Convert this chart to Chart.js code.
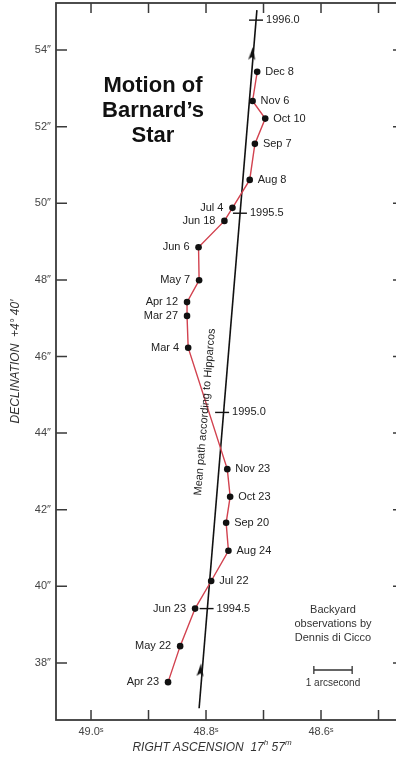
<!DOCTYPE html>
<html>
<head>
<meta charset="utf-8">
<script src="https://cdn.jsdelivr.net/npm/chart.js@4.4.0/dist/chart.umd.min.js"></script>
<style>
  html, body { margin: 0; padding: 0; background: #fff; overflow: hidden; }
  #wrap { width: 404px; height: 760px; }
</style>
</head>
<body>
<div id="wrap"><canvas id="barnard"></canvas></div>
<script>
// RA in seconds after 17h 57m, Dec in arcsec after +4° 40'
const obsDates = ["Apr 23", "May 22", "Jun 23", "Jul 22", "Aug 24", "Sep 20", "Oct 23", "Nov 23",
  "Mar 4", "Mar 27", "Apr 12", "May 7", "Jun 6", "Jun 18", "Jul 4", "Aug 8", "Sep 7", "Oct 10", "Nov 6", "Dec 8"];
const obsRA = [48.866, 48.845, 48.819, 48.791, 48.761, 48.765, 48.758, 48.763,
  48.831, 48.833, 48.833, 48.812, 48.813, 48.768, 48.754, 48.724, 48.715, 48.697, 48.719, 48.711];
const obsDec = [37.50, 38.44, 39.42, 40.14, 40.93, 41.66, 42.34, 43.06,
  46.23, 47.06, 47.42, 47.99, 48.85, 49.54, 49.88, 50.61, 51.55, 52.21, 52.67, 53.43];

// mean path according to Hipparcos
const epochs = ["1994.5", "1995.0", "1995.5", "1996.0"];
const epochRA = [48.799, 48.772, 48.741, 48.713];
const epochDec = [39.42, 44.54, 49.74, 54.78];
const pathRA = [48.812, 48.7115];
const pathDec = [36.82, 55.04];
const arrowRA = [48.8095, 48.7195];
const arrowDec = [37.82, 53.91];

const raTicks = [49.0, 48.9, 48.8, 48.7, 48.6, 48.5];
const raTickLabels = ["49.0ˢ", "", "48.8ˢ", "", "48.6ˢ", ""];
const decTicks = [38, 40, 42, 44, 46, 48, 50, 52, 54];
const decTickLabels = ['38″', '40″', '42″', '44″', '46″', '48″', '50″', '52″', '54″'];

// which side the date label sits on
const labelSide = ["L", "L", "L", "R", "R", "R", "R", "R",
  "L", "L", "L", "L", "L", "L", "L", "R", "R", "R", "R", "R"];

const FONT = "'Liberation Sans', Arial, sans-serif";
Chart.defaults.font.family = FONT;
Chart.defaults.color = "#333";

const pts = (xs, ys) => xs.map((x, i) => ({ x: x, y: ys[i] }));

// narrow arrow head
const arrowHead = document.createElement("canvas");
arrowHead.width = 7;
arrowHead.height = 13;
const ah = arrowHead.getContext("2d");
ah.fillStyle = "#111";
ah.beginPath();
ah.moveTo(3.5, 0);
ah.lineTo(7, 13);
ah.lineTo(3.5, 10);
ah.lineTo(0, 13);
ah.closePath();
ah.fill();

// no label padding, chart area fixed by the sizes below
function noPad(s) {
  s.paddingTop = 0;
  s.paddingBottom = 0;
  s.paddingLeft = 0;
  s.paddingRight = 0;
}

const frame = {
  id: "frame",
  afterDatasetsDraw(chart) {
    const { ctx, chartArea: a, scales: { x, y } } = chart;
    ctx.save();
    ctx.strokeStyle = "#3a3a3a";
    ctx.lineWidth = 1.8;
    ctx.strokeRect(a.left, a.top, a.right - a.left, a.bottom - a.top);
    ctx.lineWidth = 1.5;
    ctx.beginPath();
    raTicks.forEach((v) => {
      const px = x.getPixelForValue(v);
      ctx.moveTo(px, a.bottom);
      ctx.lineTo(px, a.bottom - 10);
      ctx.moveTo(px, a.top);
      ctx.lineTo(px, a.top + 10);
    });
    decTicks.forEach((v) => {
      const py = y.getPixelForValue(v);
      ctx.moveTo(a.left, py);
      ctx.lineTo(a.left + 11, py);
      ctx.moveTo(a.right, py);
      ctx.lineTo(a.right - 10, py);
    });
    ctx.stroke();
    ctx.restore();
  },
};

const notes = {
  id: "notes",
  afterDraw(chart) {
    const { ctx, scales: { x, y } } = chart;
    ctx.save();
    ctx.fillStyle = "#111";
    ctx.textAlign = "center";
    ctx.textBaseline = "alphabetic";
    ctx.font = "bold 22px " + FONT;
    ctx.fillText("Motion of", 153, 92);
    ctx.fillText("Barnard’s", 153, 117);
    ctx.fillText("Star", 153, 142);

    // date labels
    ctx.font = "11px " + FONT;
    ctx.fillStyle = "#222";
    ctx.textBaseline = "middle";
    obsDates.forEach((d, i) => {
      const px = x.getPixelForValue(obsRA[i]);
      const py = y.getPixelForValue(obsDec[i]);
      if (labelSide[i] === "R") {
        ctx.textAlign = "left";
        ctx.fillText(d, px + 8, py);
      } else {
        ctx.textAlign = "right";
        ctx.fillText(d, px - 9, py);
      }
    });
    ctx.textAlign = "left";
    epochs.forEach((e, i) => {
      ctx.fillText(e, x.getPixelForValue(epochRA[i]) + 10, y.getPixelForValue(epochDec[i]));
    });

    // label along the mean path
    ctx.save();
    ctx.translate(205, 412);
    ctx.rotate(-85.2 * Math.PI / 180);
    ctx.textAlign = "center";
    ctx.font = "11px " + FONT;
    ctx.fillText("Mean path according to Hipparcos", 0, 0);
    ctx.restore();

    // credit
    ctx.textAlign = "center";
    ctx.fillStyle = "#333";
    ctx.font = "11px " + FONT;
    ctx.fillText("Backyard", 333, 610);
    ctx.fillText("observations by", 333, 624);
    ctx.fillText("Dennis di Cicco", 333, 638);

    // 1 arcsecond scale bar
    const len = y.getPixelForValue(40) - y.getPixelForValue(41);
    const bx = 333 - len / 2, by = 670;
    ctx.strokeStyle = "#333";
    ctx.lineWidth = 1.3;
    ctx.beginPath();
    ctx.moveTo(bx, by);
    ctx.lineTo(bx + len, by);
    ctx.moveTo(bx, by - 4);
    ctx.lineTo(bx, by + 4);
    ctx.moveTo(bx + len, by - 4);
    ctx.lineTo(bx + len, by + 4);
    ctx.stroke();
    ctx.font = "10px " + FONT;
    ctx.fillText("1 arcsecond", 333, 683);

    // x axis title with superscripts
    const big = "italic 12px " + FONT, small = "italic 8px " + FONT;
    const parts = [["RIGHT ASCENSION  17", big, 0], ["h", small, -5], [" 57", big, 0], ["m", small, -5]];
    let w = 0;
    parts.forEach((p) => { ctx.font = p[1]; w += ctx.measureText(p[0]).width; });
    let tx = 212 - w / 2;
    ctx.textAlign = "left";
    ctx.fillStyle = "#333";
    parts.forEach((p) => {
      ctx.font = p[1];
      ctx.fillText(p[0], tx, 748 + p[2]);
      tx += ctx.measureText(p[0]).width;
    });
    ctx.restore();
  },
};

new Chart(document.getElementById("barnard"), {
  type: "scatter",
  data: {
    datasets: [
      {
        label: "Observed",
        data: pts(obsRA, obsDec),
        showLine: true,
        borderColor: "#d2424f",
        borderWidth: 1.4,
        pointRadius: 3.3,
        pointBackgroundColor: "#111",
        pointBorderColor: "#111",
        pointBorderWidth: 0,
      },
      {
        label: "Epochs",
        data: pts(epochRA, epochDec),
        pointStyle: "line",
        pointRadius: 7,
        pointBorderColor: "#111",
        pointBorderWidth: 1.4,
      },
      {
        label: "Arrows",
        data: pts(arrowRA, arrowDec),
        pointStyle: arrowHead,
        rotation: 4.8,
      },
      {
        label: "Mean path",
        data: pts(pathRA, pathDec),
        showLine: true,
        borderColor: "#111",
        borderWidth: 1.6,
        pointRadius: 0,
      },
    ],
  },
  options: {
    responsive: true,
    maintainAspectRatio: false,
    animation: false,
    layout: { autoPadding: false, padding: { top: 3, right: 1, left: 0, bottom: 0 } },
    plugins: { legend: { display: false }, tooltip: { enabled: false } },
    scales: {
      x: {
        type: "linear",
        reverse: true,
        min: 48.4574,
        max: 49.0609,
        afterBuildTicks: (s) => { s.ticks = raTicks.map((v) => ({ value: v })); },
        afterFit: (s) => { s.height = 40; noPad(s); },
        grid: { display: false, drawTicks: false },
        border: { display: false },
        ticks: {
          padding: 5,
          autoSkip: false,
          maxRotation: 0,
          color: "#444",
          font: { size: 11 },
          callback: (v, i) => raTickLabels[i],
        },
      },
      y: {
        type: "linear",
        min: 36.512,
        max: 55.227,
        afterBuildTicks: (s) => { s.ticks = decTicks.map((v) => ({ value: v })); },
        afterFit: (s) => { s.width = 56; noPad(s); },
        grid: { display: false, drawTicks: false },
        border: { display: false },
        ticks: {
          padding: 5,
          autoSkip: false,
          color: "#444",
          font: { size: 11 },
          callback: (v, i) => decTickLabels[i],
        },
        title: {
          display: true,
          text: "DECLINATION  +4° 40′",
          color: "#333",
          font: { size: 12, style: "italic" },
          padding: { top: 8, bottom: 0 },
        },
      },
    },
  },
  plugins: [frame, notes],
});
</script>
</body>
</html>
